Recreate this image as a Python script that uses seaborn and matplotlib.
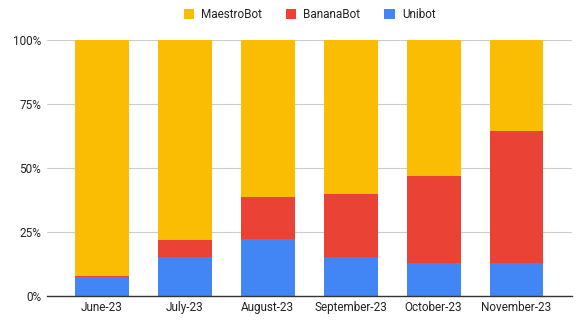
import numpy as np
import pandas as pd
import seaborn as sns
import matplotlib.pyplot as plt
from matplotlib.ticker import PercentFormatter

months = ["June-23", "July-23", "August-23", "September-23", "October-23", "November-23"]
unibot = [7.4, 15.1, 22.4, 15.1, 13.0, 13.0]
bananabot = [0.3, 6.9, 16.3, 24.9, 34.0, 51.6]
maestrobot = [100 - u - b for u, b in zip(unibot, bananabot)]

colors = {"MaestroBot": "#FBBC04", "BananaBot": "#EA4335", "Unibot": "#4285F4"}

df = pd.DataFrame({"month": months, "Unibot": unibot, "BananaBot": bananabot, "MaestroBot": maestrobot})
df["lower2"] = df["Unibot"] + df["BananaBot"]
df["total"] = df["lower2"] + df["MaestroBot"]

sns.set_style("white")
plt.rcParams["font.family"] = ["Roboto", "DejaVu Sans"]

fig = plt.figure(figsize=(5.85, 3.28), dpi=100)
ax = fig.add_axes([0.080, 0.098, 0.898, 0.780])

# overlapping bars, tallest first
for col, name in [("total", "MaestroBot"), ("lower2", "BananaBot"), ("Unibot", "Unibot")]:
    sns.barplot(data=df, x="month", y=col, color=colors[name], width=0.65,
                saturation=1, label=name, ax=ax, zorder=3, linewidth=0)

ax.set_xlim(-0.66, 5.67)
ax.set_ylim(0, 100)
ax.set_yticks([0, 25, 50, 75, 100])
ax.yaxis.set_major_formatter(PercentFormatter(decimals=0))
ax.grid(axis="y", color="#cccccc", linewidth=0.8, zorder=0)
ax.set_xlabel("")
ax.set_ylabel("")
for s in ["top", "right", "left"]:
    ax.spines[s].set_visible(False)
ax.spines["bottom"].set_color("#333333")
ax.spines["bottom"].set_linewidth(1.0)
ax.spines["bottom"].set_zorder(4)
ax.tick_params(axis="both", length=0, labelsize=8.5, colors="#222222", pad=4)

ax.legend(loc="center", bbox_to_anchor=(0.5, 1.098), ncol=3, frameon=False,
          fontsize=8.5, handlelength=0.9, handleheight=0.9, handletextpad=0.6,
          columnspacing=2.0, labelcolor="#222222")

fig.savefig("out.png", dpi=100)
